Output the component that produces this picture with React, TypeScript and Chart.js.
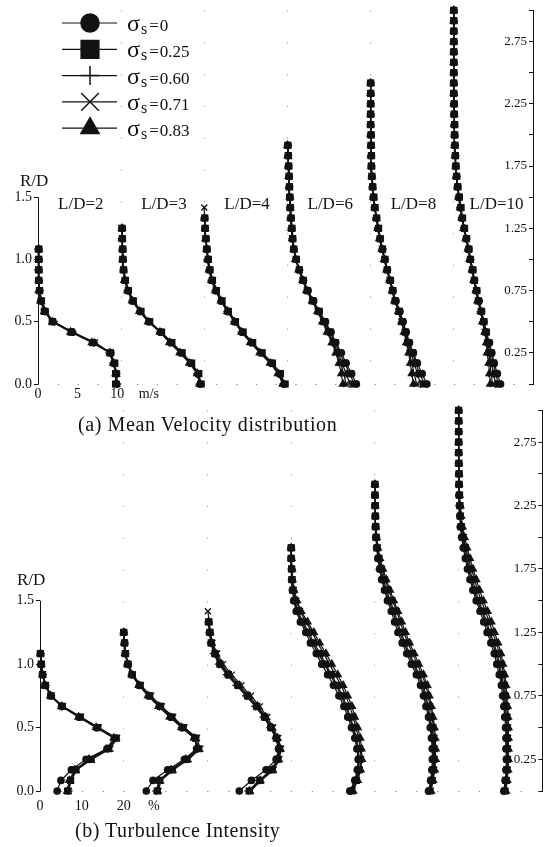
import React, { useEffect, useRef } from 'react';
import { Chart, registerables } from 'chart.js';
import { drawPoint } from 'chart.js/helpers';

Chart.register(...registerables);

// ---------------- data ----------------
// radial measuring stations R/D (shared by all profiles)
const RD = [0, 0.083, 0.167, 0.25, 0.333, 0.417, 0.5, 0.583, 0.667, 0.75, 0.833, 0.917, 1.0, 1.083, 1.167, 1.25, 1.333, 1.417, 1.5, 1.583, 1.667, 1.75, 1.833, 1.917, 2.0, 2.083, 2.167, 2.25, 2.333, 2.417, 2.5, 2.583, 2.667, 2.75, 2.833, 2.917, 3.0];

const SIGMA_VALUES = ['0', '0.25', '0.60', '0.71', '0.83'];
const LD_LABELS = ['L/D=2', 'L/D=3', 'L/D=4', 'L/D=6', 'L/D=8', 'L/D=10'];

// (a) mean velocity, m/s — rows: sigma_s = 0, 0.25, 0.60, 0.71, 0.83
const VEL_LD2 = [
  [9.9, 9.9, 9.6, 9.2, 7.0, 4.3, 1.9, 0.9, 0.4, 0.2, 0.1, 0.1, 0.1, 0.1],
  [9.8, 9.8, 9.7, 9.1, 6.9, 4.2, 1.8, 0.8, 0.4, 0.2, 0.1, 0.1, 0.1, 0.1],
  [10.0, 9.9, 9.5, 9.0, 7.1, 4.4, 2.0, 0.9, 0.4, 0.2, 0.1, 0.0, 0.1, 0.0],
  [9.9, 10.0, 9.6, 9.2, 7.2, 4.3, 1.9, 1.0, 0.5, 0.2, 0.1, 0.1, 0.0, 0.1],
  [9.9, 9.8, 9.5, 9.1, 6.8, 4.1, 1.8, 0.8, 0.3, 0.1, 0.1, 0.1, 0.1, 0.1],
];
const VEL_LD3 = [
  [10.0, 9.7, 8.8, 7.6, 6.3, 5.0, 3.5, 2.4, 1.5, 0.9, 0.5, 0.3, 0.25, 0.2, 0.15, 0.15],
  [10.1, 9.8, 8.9, 7.7, 6.4, 5.1, 3.6, 2.5, 1.5, 0.9, 0.5, 0.3, 0.2, 0.2, 0.15, 0.1],
  [9.9, 9.6, 8.7, 7.5, 6.2, 4.9, 3.5, 2.4, 1.4, 0.8, 0.5, 0.3, 0.2, 0.15, 0.1, 0.1],
  [10.0, 9.8, 8.9, 7.7, 6.3, 5.0, 3.6, 2.5, 1.6, 0.9, 0.6, 0.35, 0.25, 0.2, 0.15, 0.1],
  [9.9, 9.6, 8.6, 7.4, 6.1, 4.9, 3.4, 2.3, 1.4, 0.8, 0.4, 0.3, 0.2, 0.15, 0.1, 0.1],
];
const VEL_LD4 = [
  [10.1, 9.5, 8.5, 7.2, 6.0, 4.8, 3.9, 3.0, 2.2, 1.5, 1.0, 0.7, 0.5, 0.35, 0.2, 0.1, 0.05],
  [10.2, 9.6, 8.6, 7.3, 6.1, 4.9, 3.9, 3.0, 2.2, 1.5, 1.0, 0.7, 0.5, 0.3, 0.2, 0.1, 0.05],
  [10.0, 9.4, 8.4, 7.1, 5.9, 4.7, 3.8, 2.9, 2.1, 1.4, 0.9, 0.6, 0.4, 0.3, 0.2, 0.1, 0.0],
  [10.1, 9.6, 8.6, 7.3, 6.0, 4.9, 4.0, 3.1, 2.3, 1.6, 1.1, 0.7, 0.5, 0.35, 0.2, 0.1, 0.05, 0.0],
  [9.9, 9.3, 8.3, 7.0, 5.8, 4.7, 3.8, 2.9, 2.1, 1.4, 0.9, 0.6, 0.4, 0.3, 0.15, 0.1, 0.0],
];
const VEL_LD6 = [
  [8.7, 8.1, 7.4, 6.8, 6.1, 5.5, 4.8, 4.0, 3.3, 2.6, 2.0, 1.5, 1.1, 0.8, 0.65, 0.55, 0.45, 0.35, 0.3, 0.25, 0.2, 0.15, 0.1, 0.05],
  [8.4, 7.9, 7.2, 6.6, 6.0, 5.4, 4.7, 4.0, 3.2, 2.5, 2.0, 1.5, 1.1, 0.8, 0.65, 0.55, 0.45, 0.35, 0.3, 0.25, 0.2, 0.15, 0.1, 0.05],
  [7.9, 7.4, 6.9, 6.4, 5.8, 5.2, 4.6, 3.9, 3.2, 2.5, 2.0, 1.5, 1.1, 0.8, 0.6, 0.5, 0.4, 0.35, 0.3, 0.2, 0.2, 0.1, 0.1, 0.05],
  [7.4, 7.1, 6.7, 6.2, 5.7, 5.1, 4.5, 3.8, 3.1, 2.5, 1.9, 1.5, 1.1, 0.8, 0.7, 0.6, 0.5, 0.4, 0.3, 0.25, 0.2, 0.15, 0.1, 0.05],
  [7.0, 6.8, 6.5, 6.1, 5.6, 5.0, 4.4, 3.8, 3.1, 2.4, 1.9, 1.4, 1.0, 0.8, 0.6, 0.5, 0.4, 0.35, 0.3, 0.2, 0.15, 0.1, 0.05, 0.0],
];
const VEL_LD8 = [
  [7.1, 6.5, 5.9, 5.4, 4.9, 4.5, 4.1, 3.7, 3.2, 2.8, 2.5, 2.1, 1.8, 1.5, 1.2, 0.95, 0.75, 0.5, 0.35, 0.25, 0.15, 0.1, 0.1, 0.05, 0.05, 0, 0, 0, 0, 0],
  [6.8, 6.2, 5.7, 5.3, 4.8, 4.4, 4.0, 3.6, 3.1, 2.8, 2.5, 2.1, 1.8, 1.5, 1.2, 1.0, 0.75, 0.55, 0.4, 0.25, 0.15, 0.1, 0.1, 0.05, 0.05, 0, 0, 0, 0, 0],
  [6.3, 5.9, 5.5, 5.1, 4.7, 4.4, 4.0, 3.6, 3.1, 2.8, 2.4, 2.1, 1.8, 1.5, 1.2, 0.9, 0.7, 0.5, 0.35, 0.2, 0.15, 0.1, 0.05, 0.05, 0, 0, 0, 0, 0, 0],
  [5.8, 5.5, 5.2, 4.9, 4.6, 4.3, 3.9, 3.5, 3.1, 2.7, 2.4, 2.1, 1.8, 1.5, 1.2, 1.0, 0.8, 0.55, 0.4, 0.3, 0.2, 0.1, 0.1, 0.05, 0.05, 0, 0, 0, 0, 0],
  [5.4, 5.2, 5.0, 4.8, 4.5, 4.2, 3.9, 3.5, 3.0, 2.7, 2.4, 2.0, 1.7, 1.4, 1.1, 0.9, 0.7, 0.5, 0.35, 0.25, 0.15, 0.1, 0.05, 0.05, 0, 0, 0, 0, 0, 0],
];
const VEL_LD10 = [
  [5.9, 5.5, 5.1, 4.8, 4.5, 4.1, 3.8, 3.5, 3.2, 2.9, 2.6, 2.4, 2.1, 1.9, 1.6, 1.3, 1.05, 0.85, 0.65, 0.5, 0.35, 0.25, 0.2, 0.15, 0.1, 0.1, 0.05, 0.05, 0, 0, 0, 0, 0, 0, 0, 0, 0],
  [5.6, 5.3, 5.0, 4.7, 4.4, 4.1, 3.8, 3.5, 3.1, 2.9, 2.6, 2.4, 2.1, 1.9, 1.6, 1.35, 1.1, 0.9, 0.7, 0.5, 0.35, 0.25, 0.2, 0.15, 0.1, 0.1, 0.05, 0.05, 0, 0, 0, 0, 0, 0, 0, 0, 0],
  [5.3, 5.0, 4.8, 4.5, 4.3, 4.0, 3.7, 3.4, 3.1, 2.8, 2.6, 2.3, 2.1, 1.8, 1.6, 1.3, 1.0, 0.8, 0.6, 0.45, 0.35, 0.25, 0.2, 0.1, 0.1, 0.05, 0.05, 0, 0, 0, 0, 0, 0, 0, 0, 0, 0],
  [4.9, 4.7, 4.6, 4.4, 4.2, 3.9, 3.7, 3.4, 3.1, 2.8, 2.6, 2.3, 2.1, 1.9, 1.6, 1.3, 1.1, 0.9, 0.7, 0.5, 0.4, 0.3, 0.2, 0.15, 0.1, 0.1, 0.05, 0.05, 0, 0, 0, 0, 0, 0, 0, 0, 0],
  [4.6, 4.5, 4.4, 4.2, 4.1, 3.9, 3.6, 3.4, 3.0, 2.8, 2.5, 2.3, 2.0, 1.8, 1.5, 1.25, 1.0, 0.8, 0.6, 0.45, 0.3, 0.25, 0.15, 0.1, 0.1, 0.05, 0.05, 0, 0, 0, 0, 0, 0, 0, 0, 0, 0],
];

// (b) turbulence intensity, % — rows: sigma_s = 0, 0.25, 0.60, 0.71, 0.83
const TI_LD2 = [
  [4.1, 5.0, 7.5, 11.0, 16.0, 18.0, 13.6, 9.4, 5.2, 2.6, 1.3, 0.6, 0.3, 0.1],
  [6.6, 7.3, 8.6, 12.2, 16.4, 18.2, 13.8, 9.6, 5.3, 2.6, 1.2, 0.6, 0.3, 0.1],
  [6.8, 7.1, 8.4, 11.8, 16.2, 17.8, 13.5, 9.3, 5.2, 2.7, 1.3, 0.7, 0.3, 0.2],
  [6.9, 7.4, 8.8, 12.4, 16.8, 18.4, 14.0, 9.8, 5.5, 2.8, 1.4, 0.7, 0.4, 0.2],
  [6.5, 7.0, 8.3, 11.7, 16.0, 17.6, 13.4, 9.2, 5.1, 2.5, 1.2, 0.6, 0.3, 0.1],
];
const TI_LD3 = [
  [5.4, 7.0, 10.5, 14.5, 17.4, 17.0, 14.0, 11.3, 8.6, 6.1, 3.8, 2.0, 1.0, 0.4, 0.2, 0.0],
  [8.0, 8.6, 11.6, 15.1, 17.9, 17.2, 14.2, 11.5, 8.8, 6.2, 3.9, 2.0, 1.0, 0.4, 0.2, 0.0],
  [7.8, 8.4, 11.4, 14.9, 17.6, 16.9, 13.9, 11.2, 8.5, 6.0, 3.7, 1.9, 0.9, 0.4, 0.2, 0.0],
  [8.3, 8.9, 11.9, 15.5, 18.3, 17.5, 14.5, 11.8, 9.1, 6.5, 4.1, 2.2, 1.1, 0.5, 0.2, 0.0],
  [8.1, 8.5, 11.3, 14.8, 17.7, 16.8, 13.8, 11.0, 8.3, 5.8, 3.6, 1.9, 0.9, 0.3, 0.1, 0.0],
];
const TI_LD4 = [
  [7.6, 10.5, 14.0, 16.4, 17.0, 16.4, 15.1, 13.6, 11.7, 9.5, 7.2, 4.9, 3.0, 1.8, 0.9, 0.5, 0.3],
  [10.0, 12.5, 15.5, 16.8, 17.2, 16.5, 15.2, 13.7, 11.8, 9.6, 7.3, 5.0, 3.0, 1.8, 0.9, 0.6, 0.3],
  [9.8, 12.3, 15.3, 16.6, 17.0, 16.3, 15.0, 13.4, 11.4, 9.2, 6.9, 4.6, 2.7, 1.5, 0.8, 0.5, 0.2],
  [10.3, 12.8, 15.8, 17.2, 17.6, 16.9, 15.7, 14.3, 12.5, 10.4, 8.1, 5.8, 3.7, 2.3, 1.2, 0.7, 0.4, 0.1],
  [10.1, 12.6, 15.6, 17.0, 17.4, 16.7, 15.4, 13.9, 12.0, 9.9, 7.6, 5.3, 3.3, 2.0, 1.0, 0.6, 0.3],
];
const TI_LD6 = [
  [14.0, 15.2, 15.8, 16.0, 15.7, 15.2, 14.4, 13.5, 12.6, 11.4, 10.1, 8.7, 7.3, 6.0, 4.6, 3.5, 2.2, 1.2, 0.6, 0.3, 0.1, 0.1, 0.0, 0.0],
  [14.4, 15.5, 16.1, 16.3, 16.0, 15.6, 14.9, 14.1, 13.3, 12.2, 11.0, 9.6, 8.2, 6.9, 5.4, 4.2, 2.8, 1.6, 0.9, 0.4, 0.2, 0.1, 0.0, 0.0],
  [14.2, 15.3, 15.9, 16.1, 15.9, 15.4, 14.7, 13.9, 13.0, 11.9, 10.7, 9.3, 7.9, 6.5, 5.1, 3.9, 2.5, 1.4, 0.8, 0.4, 0.2, 0.1, 0.0, 0.0],
  [14.6, 15.7, 16.4, 16.7, 16.5, 16.1, 15.5, 14.8, 14.0, 13.0, 11.9, 10.5, 9.1, 7.8, 6.3, 5.0, 3.5, 2.1, 1.2, 0.6, 0.3, 0.1, 0.0, 0.0],
  [14.8, 15.9, 16.6, 16.9, 16.8, 16.5, 15.9, 15.2, 14.5, 13.5, 12.4, 11.1, 9.7, 8.3, 6.8, 5.4, 3.9, 2.4, 1.4, 0.7, 0.3, 0.2, 0.1, 0.0],
];
const TI_LD8 = [
  [12.8, 13.3, 13.6, 13.7, 13.7, 13.5, 13.2, 12.8, 12.2, 11.6, 10.9, 9.9, 8.7, 7.6, 6.5, 5.5, 4.7, 3.9, 3.0, 2.3, 1.6, 1.1, 0.7, 0.4, 0.2, 0.1, 0.1, 0, 0, 0],
  [13.1, 13.6, 13.9, 14.0, 14.0, 13.9, 13.6, 13.2, 12.7, 12.2, 11.6, 10.6, 9.4, 8.3, 7.2, 6.2, 5.4, 4.6, 3.6, 2.8, 2.0, 1.4, 0.9, 0.5, 0.3, 0.2, 0.1, 0.05, 0, 0],
  [13.0, 13.5, 13.8, 13.9, 13.8, 13.7, 13.4, 13.0, 12.5, 11.9, 11.3, 10.3, 9.1, 8.0, 6.9, 5.9, 5.1, 4.3, 3.3, 2.5, 1.8, 1.2, 0.8, 0.5, 0.3, 0.2, 0.1, 0.05, 0, 0],
  [13.3, 13.8, 14.1, 14.3, 14.3, 14.2, 14.0, 13.6, 13.2, 12.7, 12.2, 11.2, 10.1, 9.0, 7.9, 6.9, 6.0, 5.2, 4.2, 3.3, 2.4, 1.7, 1.1, 0.7, 0.4, 0.2, 0.1, 0.05, 0, 0],
  [13.4, 13.9, 14.3, 14.5, 14.5, 14.4, 14.2, 13.9, 13.5, 13.0, 12.5, 11.6, 10.5, 9.4, 8.3, 7.3, 6.4, 5.5, 4.5, 3.6, 2.7, 1.9, 1.2, 0.7, 0.4, 0.2, 0.1, 0.05, 0, 0],
];
const TI_LD10 = [
  [10.8, 11.1, 11.3, 11.4, 11.3, 11.3, 11.2, 11.0, 10.8, 10.5, 10.2, 9.7, 9.1, 8.5, 7.7, 6.8, 6.0, 5.1, 4.2, 3.4, 2.7, 2.1, 1.6, 1.1, 0.7, 0.4, 0.3, 0.2, 0.1, 0.1, 0.05, 0, 0, 0, 0, 0, 0],
  [11.0, 11.3, 11.5, 11.6, 11.6, 11.6, 11.5, 11.4, 11.2, 11.0, 10.7, 10.3, 9.8, 9.2, 8.4, 7.5, 6.7, 5.8, 4.8, 4.0, 3.3, 2.6, 2.0, 1.5, 1.0, 0.6, 0.4, 0.3, 0.2, 0.1, 0.1, 0.05, 0, 0, 0, 0, 0],
  [10.9, 11.2, 11.4, 11.5, 11.5, 11.5, 11.4, 11.2, 11.0, 10.8, 10.5, 10.0, 9.5, 8.9, 8.1, 7.2, 6.4, 5.5, 4.5, 3.7, 3.0, 2.3, 1.8, 1.3, 0.8, 0.5, 0.3, 0.2, 0.1, 0.1, 0.05, 0, 0, 0, 0, 0, 0],
  [11.2, 11.5, 11.7, 11.8, 11.8, 11.8, 11.8, 11.7, 11.5, 11.3, 11.1, 10.7, 10.3, 9.7, 9.0, 8.1, 7.3, 6.4, 5.4, 4.5, 3.8, 3.0, 2.3, 1.7, 1.2, 0.8, 0.5, 0.3, 0.2, 0.1, 0.1, 0.05, 0, 0, 0, 0, 0],
  [11.3, 11.6, 11.8, 11.9, 11.9, 11.9, 11.9, 11.8, 11.7, 11.5, 11.3, 11.0, 10.6, 10.1, 9.4, 8.6, 7.8, 6.9, 5.9, 5.0, 4.2, 3.4, 2.7, 2.0, 1.4, 0.9, 0.6, 0.4, 0.2, 0.1, 0.1, 0.05, 0, 0, 0, 0, 0],
];

// axis ticks / labels
const LEFT_TICKS = [0, 0.5, 1.0, 1.5];
const RIGHT_TICKS = [0, 0.25, 0.5, 0.75, 1.0, 1.25, 1.5, 1.75, 2.0, 2.25, 2.5, 2.75, 3.0];
const RIGHT_LABELED = [0.25, 0.75, 1.25, 1.75, 2.25, 2.75];
const VEL_TICK_VALUES = [0, 5, 10];
const TI_TICK_VALUES = [0, 10, 20];
const VEL_UNIT = 'm/s';
const TI_UNIT = '%';
const VEL_OFFSET = 10.5; // horizontal shift between successive profiles (m/s)
const TI_OFFSET = 20; // (%)

// ---------------- style ----------------
const INK = '#121212';
const SERIF = "'Liberation Serif', 'DejaVu Serif', 'Times New Roman', serif";
const POINT_STYLES = ['circle', 'rect', 'cross', 'crossRot', 'triangle'];
const POINT_RADII = [3.2, 4.2, 4.0, 4.3, 4.0];
const LEGEND_RADII = [9, 12.5, 9.5, 12.5, 10.5];

function buildDatasets(profiles: number[][][], offset: number) {
  const out: any[] = [];
  profiles.forEach((prof, p) => {
    prof.forEach((series, s) => {
      out.push({
        data: series.map((v, i) => ({ x: p * offset + v, y: RD[i] })),
        showLine: true,
        borderColor: INK,
        backgroundColor: INK,
        borderWidth: 1.2,
        pointStyle: POINT_STYLES[s],
        pointRadius: POINT_RADII[s],
        pointBorderWidth: 1.3,
        pointBorderColor: INK,
        pointBackgroundColor: INK,
        tension: 0,
        clip: false,
        xAxisID: 'x',
        yAxisID: 'yR',
      });
    });
  });
  return out;
}

const near = (a: number, b: number) => Math.abs(a - b) < 1e-6;

const decorPlugin = {
  id: 'decor',
  afterDraw(chart: any, _args: any, opts: any) {
    const { ctx, chartArea } = chart;
    const xs = chart.scales.x;
    const yL = chart.scales.yL;
    ctx.save();
    // left axis line (0 .. 1.5 only)
    ctx.strokeStyle = INK;
    ctx.lineWidth = 1;
    ctx.setLineDash([]);
    const ax = Math.round(chartArea.left) + 0.5;
    ctx.beginPath();
    ctx.moveTo(ax, yL.getPixelForValue(0));
    ctx.lineTo(ax, yL.getPixelForValue(LEFT_TICKS[LEFT_TICKS.length - 1]));
    ctx.stroke();
    // R/D label
    ctx.fillStyle = INK;
    ctx.font = `17px ${SERIF}`;
    ctx.textAlign = 'left';
    ctx.textBaseline = 'alphabetic';
    ctx.fillText('R/D', opts.rdX, yL.getPixelForValue(LEFT_TICKS[LEFT_TICKS.length - 1]) - opts.rdGap);
    // L/D labels
    if (opts.showLd) {
      ctx.font = `17px ${SERIF}`;
      ctx.textAlign = 'center';
      ctx.textBaseline = 'middle';
      LD_LABELS.forEach((t, i) => {
        ctx.fillText(t, xs.getPixelForValue(i * VEL_OFFSET + 5.4), yL.getPixelForValue(1.44));
      });
    }
    // legend
    if (opts.showLegend) {
      SIGMA_VALUES.forEach((val, i) => {
        const y = 23 + i * 26.3;
        ctx.strokeStyle = INK;
        ctx.fillStyle = INK;
        ctx.lineWidth = 1.2;
        ctx.beginPath();
        ctx.moveTo(62, y);
        ctx.lineTo(117, y);
        ctx.stroke();
        ctx.lineWidth = 1.5;
        drawPoint(ctx, { pointStyle: POINT_STYLES[i], radius: LEGEND_RADII[i], borderWidth: 1.5, rotation: 0 } as any, 90, y);
        ctx.textAlign = 'left';
        ctx.textBaseline = 'alphabetic';
        const base = y + 8;
        let tx = 127;
        ctx.font = `24px ${SERIF}`;
        ctx.fillText('σ', tx, base);
        tx += ctx.measureText('σ').width + 1;
        ctx.font = `16px ${SERIF}`;
        ctx.fillText('s', tx, base + 3);
        tx += ctx.measureText('s').width + 2;
        ctx.font = `17px ${SERIF}`;
        ctx.fillText('=', tx, base);
        tx += ctx.measureText('=').width + 1;
        ctx.fillText(val, tx, base);
      });
    }
    ctx.restore();
  },
};

function makeConfig(kind: 'vel' | 'ti'): any {
  const isVel = kind === 'vel';
  const offset = isVel ? VEL_OFFSET : TI_OFFSET;
  const profiles = isVel
    ? [VEL_LD2, VEL_LD3, VEL_LD4, VEL_LD6, VEL_LD8, VEL_LD10]
    : [TI_LD2, TI_LD3, TI_LD4, TI_LD6, TI_LD8, TI_LD10];
  const origins = LD_LABELS.map((_, i) => i * offset);
  const tickVals = isVel ? VEL_TICK_VALUES : TI_TICK_VALUES;
  const unitPos = isVel ? 14 : 27.2;
  const unit = isVel ? VEL_UNIT : TI_UNIT;
  const xTicks = Array.from(new Set([...tickVals, unitPos, ...origins])).sort((a, b) => a - b);
  const xMax = isVel ? 62.5 : 120;

  return {
    type: 'scatter',
    data: { datasets: buildDatasets(profiles, offset) },
    options: {
      animation: false,
      responsive: false,
      devicePixelRatio: 1,
      layout: { padding: { top: isVel ? 5 : 10, left: 0, right: 0, bottom: 0 } },
      plugins: {
        legend: { display: false },
        tooltip: { enabled: false },
        decor: isVel
          ? { showLegend: true, showLd: true, rdX: 20, rdGap: 11 }
          : { showLegend: false, showLd: false, rdX: 17, rdGap: 16 },
      },
      scales: {
        x: {
          type: 'linear',
          position: 'bottom',
          min: 0,
          max: xMax,
          afterBuildTicks: (s: any) => {
            s.ticks = xTicks.map((v) => ({ value: v }));
          },
          afterFit: (s: any) => {
            s.height = isVel ? 16 : 56;
          },
          ticks: {
            autoSkip: false,
            maxRotation: 0,
            padding: isVel ? 2 : 7,
            color: INK,
            font: { family: SERIF, size: 14 },
            callback: (v: number) => {
              if (near(v, unitPos)) return unit;
              if (tickVals.some((t) => near(t, v))) return String(v);
              return '';
            },
          },
          grid: {
            drawTicks: false,
            lineWidth: 1,
            color: (c: any) => {
              const v = c.tick ? c.tick.value : NaN;
              return origins.some((o) => o > 0 && near(o, v)) ? '#a8a8a8' : 'rgba(0,0,0,0)';
            },
          },
          border: { display: false, dash: [1.3, 30.5] },
        },
        yL: {
          type: 'linear',
          position: 'left',
          min: 0,
          max: 3,
          afterBuildTicks: (s: any) => {
            s.ticks = LEFT_TICKS.map((v) => ({ value: v }));
          },
          afterFit: (s: any) => {
            s.width = isVel ? 38 : 40;
          },
          ticks: {
            autoSkip: false,
            padding: 2,
            color: INK,
            font: { family: SERIF, size: 14 },
            callback: (v: number) => v.toFixed(1),
          },
          grid: {
            drawTicks: true,
            tickLength: 4,
            tickColor: INK,
            tickWidth: 1,
            lineWidth: 1,
            color: (c: any) => (c.tick && near(c.tick.value, 0) ? '#8a8a8a' : 'rgba(0,0,0,0)'),
          },
          border: { display: false, dash: isVel ? [1.3, 18.5] : [1.3, 19.6] },
        },
        yR: {
          type: 'linear',
          position: 'right',
          min: 0,
          max: 3,
          afterBuildTicks: (s: any) => {
            s.ticks = RIGHT_TICKS.map((v) => ({ value: v }));
          },
          afterFit: (s: any) => {
            s.width = isVel ? 15 : 5;
          },
          ticks: {
            autoSkip: false,
            mirror: true,
            padding: -6,
            color: INK,
            font: { family: SERIF, size: 13 },
            callback: (v: number) => (RIGHT_LABELED.some((t) => near(t, v)) ? v.toFixed(2) : ''),
          },
          grid: {
            drawOnChartArea: false,
            drawTicks: true,
            tickLength: -4,
            tickColor: INK,
            tickWidth: 1,
          },
          border: { display: true, color: INK, width: 1 },
        },
      },
    },
    plugins: [decorPlugin],
  };
}

function PanelChart({ kind, top, height }: { kind: 'vel' | 'ti'; top: number; height: number }) {
  const ref = useRef<HTMLCanvasElement | null>(null);
  useEffect(() => {
    if (!ref.current) return;
    const chart = new Chart(ref.current, makeConfig(kind));
    return () => chart.destroy();
  }, [kind]);
  return (
    <canvas
      ref={ref}
      width={548}
      height={height}
      style={{ position: 'absolute', left: 0, top, width: 548, height, display: 'block' }}
    />
  );
}

const captionStyle: React.CSSProperties = {
  position: 'absolute',
  fontFamily: SERIF,
  fontSize: 20,
  lineHeight: '20px',
  color: INK,
  whiteSpace: 'nowrap',
};

export default function App() {
  return (
    <div style={{ position: 'fixed', left: 0, top: 0, width: 548, height: 847, background: '#fff', overflow: 'hidden' }}>
      <PanelChart kind="vel" top={0} height={400} />
      <PanelChart kind="ti" top={400} height={447} />
      <div style={{ ...captionStyle, left: 78, top: 414, letterSpacing: '0.6px' }}>(a) Mean Velocity distribution</div>
      <div style={{ ...captionStyle, left: 75, top: 820, letterSpacing: '0.5px' }}>(b) Turbulence Intensity</div>
    </div>
  );
}
